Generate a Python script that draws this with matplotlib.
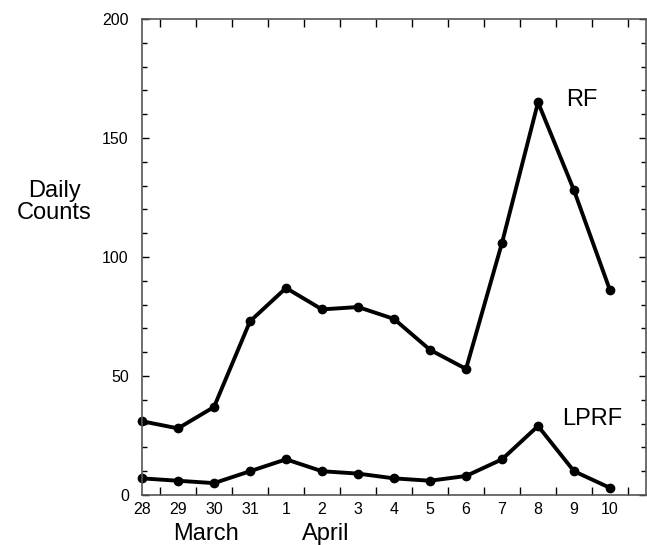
import numpy as np
import matplotlib.pyplot as plt
from matplotlib.ticker import MultipleLocator

plt.rcParams['font.family'] = ['Liberation Sans', 'DejaVu Sans']

days = ["28", "29", "30", "31", "1", "2", "3", "4", "5", "6", "7", "8", "9", "10"]
rf = [31, 28, 37, 73, 87, 78, 79, 74, 61, 53, 106, 165, 128, 86]
lprf = [7, 6, 5, 10, 15, 10, 9, 7, 6, 8, 15, 29, 10, 3]


def main():
    fig = plt.figure(figsize=(6.47, 5.45), dpi=100)
    ax = fig.add_axes([0.2195, 0.0917, 0.779, 0.8733])

    x = np.arange(len(days))
    ax.plot(x, rf, color="black", lw=2.8, marker="o", ms=6, clip_on=False)
    ax.plot(x, lprf, color="black", lw=2.8, marker="o", ms=6, clip_on=False)

    ax.set_xlim(0, 14)
    ax.set_ylim(0, 200)

    ax.set_xticks(x)
    ax.set_xticklabels(days, fontsize=11.5)
    ax.set_xticks(x + 0.5, minor=True)
    ax.tick_params(axis="x", which="major", length=0, pad=5)
    ax.tick_params(axis="x", which="minor", direction="in", length=5.8,
                   width=1, top=True, bottom=True)

    ax.yaxis.set_major_locator(MultipleLocator(50))
    ax.yaxis.set_minor_locator(MultipleLocator(10))
    ax.tick_params(axis="y", which="both", direction="in", left=True,
                   right=True, width=1, labelsize=11.5)
    ax.tick_params(axis="y", which="major", length=5, pad=9.5)
    ax.tick_params(axis="y", which="minor", length=3.6)

    for s in ax.spines.values():
        s.set_linewidth(1.2)
        s.set_color("#555555")

    ax.text(11.78, 163.4, "RF", fontsize=17, va="baseline")
    ax.text(11.67, 29.5, "LPRF", fontsize=17, va="baseline")

    fig.text(0.0835, 0.630, "Daily\nCounts", fontsize=17, ha="center",
             va="center", linespacing=1.0)
    fig.text(0.318, 0.0092, "March", fontsize=17, ha="center", va="baseline")
    fig.text(0.504, 0.0092, "April", fontsize=17, ha="center", va="baseline")

    fig.savefig("out.png", dpi=100)


if __name__ == "__main__":
    main()
